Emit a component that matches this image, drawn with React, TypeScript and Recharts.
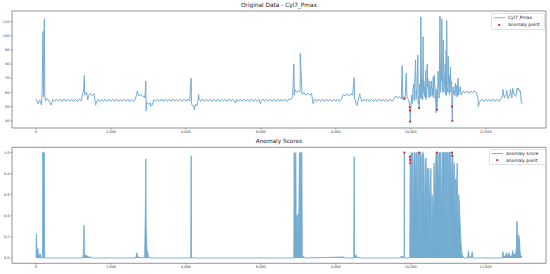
import React from 'react';
import { ComposedChart, Line, Area, Scatter, XAxis, YAxis, ReferenceArea } from 'recharts';

// ---------- data ----------
const xTicks = [0, 2000, 4000, 6000, 8000, 10000, 12000];
const pmaxTicks = [40, 50, 60, 70, 80, 90, 100, 110];
const scoreTicks = [0, 0.2, 0.4, 0.6, 0.8, 1.0];

// Cyl7_Pmax sampled every 50 samples (index 0 .. 12950)
const PMAX_STEP = 50;
const pmaxBase: number[] = [
  55.5, 52, 54.5, 51, 57, 54, 55.5, 53.5, 51, 55, 53.5, 55.2, 53.6, 55.2, 53.6, 55.4, 53.5, 55.2, 53.6, 55.3,
  53.6, 55.2, 53.5, 55.2, 53.8, 59.5, 58, 60, 57.5, 59.5, 57.5, 59, 52, 55, 53.6, 55.2, 53.5, 55.3, 53.6, 55.2,
  53.6, 55.2, 53.5, 55.3, 53.6, 55.2, 53.5, 55.2, 53.6, 55.3, 53.5, 55.2, 53.6, 55.2, 60, 57.5, 58.5, 57, 57.5, 53,
  51.5, 52.5, 51, 55, 53.6, 55.2, 53.5, 55.3, 53.6, 55.2, 53.5, 55.2, 53.6, 55.3, 53.5, 55.2, 53.6, 55.2, 53.5, 55.2,
  53.6, 55.2, 53.8, 52, 50.5, 51.5, 50.5, 55.5, 53.6, 55.3, 53.5, 55.2, 53.6, 55.2, 53.5, 55.3, 53.6, 55.2, 53.5, 55.2,
  53.6, 55.2, 53.5, 55.3, 53.6, 55.2, 53.5, 55.2, 53.6, 55.3, 53.5, 55.2, 53.6, 55.2, 53.5, 55.3, 53.6, 55.2, 53.5, 55.2,
  53.6, 55.2, 53.5, 55.3, 53.6, 55.2, 53.5, 55.2, 53.6, 55.3, 53.5, 55.2, 53.6, 55.2, 53.5, 55.3, 55, 57, 62, 60,
  61, 62, 58.5, 60, 58, 59.5, 58, 59.5, 53, 55.2, 53.5, 55.2, 53.6, 55.3, 53.5, 55.2, 53.6, 55.2, 53.5, 55.3,
  53.6, 55.2, 53.5, 55.2, 58.5, 57.5, 59, 57.5, 59, 58, 56, 51.5, 54.5, 57, 53.5, 55.2, 53.6, 55.3, 53.5, 55.2,
  53.6, 55.2, 53.5, 55.3, 53.6, 55.2, 53.5, 55.2, 53.6, 55.3, 53.5, 55.2, 57.5, 56, 57, 55.5, 57, 55, 57, 54,
  47, 55, 57, 61.5, 52, 60, 55, 62, 56, 64, 58, 63, 57, 64, 48, 62, 66, 60, 68, 58,
  60, 65, 50, 58, 63, 57, 62, 58, 61, 59.5, 61, 59, 61, 59.5, 61, 60, 55, 53.6, 55.2, 53.5,
  55.2, 53.6, 55.2, 53.5, 55.3, 53.6, 55.2, 53.5, 55.2, 57.5, 56, 58.5, 55.5, 59, 56, 59.5, 57, 61.5, 60.5, 52.5,
];

// short excursions of Cyl7_Pmax between the samples above: [index, value]
const pmaxSpikes: [number, number][] = [
  [165, 63], [185, 103], [205, 80], [222, 112], [235, 58],
  [1270, 61], [1290, 72], [1380, 54.5], [1590, 51],
  [2700, 61], [2910, 56], [2930, 68], [2940, 47], [3060, 50.3],
  [4140, 70], [4160, 51], [4230, 47.5], [4340, 58.5],
  [5320, 52.5], [5990, 52],
  [6880, 80], [6895, 58], [7040, 60], [7050, 87.5], [7395, 52],
  [8490, 70.5], [8560, 50.5], [8640, 59],
  [9770, 79], [9790, 55], [9830, 55.5], [9880, 73.5],
  [9975, 49.6], [9980, 47.2], [9985, 39.3],
  [10060, 62], [10130, 83], [10160, 58], [10190, 86.4], [10225, 48.9], [10270, 113.4], [10310, 70],
  [10330, 99.3], [10350, 68], [10400, 75.8], [10420, 60], [10440, 80], [10470, 66], [10520, 62],
  [10560, 68], [10600, 71], [10640, 66], [10680, 45.5], [10700, 47.7], [10730, 75], [10780, 113.9],
  [10810, 80], [10830, 112], [10870, 97], [10900, 72], [10920, 80], [10960, 111], [11000, 85.4],
  [11020, 70], [11060, 78], [11100, 50], [11110, 39.9], [11140, 62], [11190, 66.5], [11220, 65],
  [11260, 70], [11320, 64],
  [10020, 58], [10040, 52], [10080, 66], [10095, 54], [10110, 70], [10145, 55], [10170, 64], [10210, 57],
  [10240, 66], [10260, 56], [10290, 62], [10320, 55], [10340, 60], [10370, 57], [10385, 64], [10410, 55],
  [10430, 58], [10455, 70], [10490, 56], [10510, 68], [10535, 57], [10545, 64], [10575, 58], [10590, 63],
  [10615, 56], [10630, 72], [10660, 58], [10690, 62], [10715, 58], [10745, 66], [10760, 56], [10770, 88],
  [10795, 60], [10820, 68], [10845, 62], [10860, 75], [10885, 60], [10910, 66], [10935, 58], [10945, 90],
  [10975, 64], [10990, 60], [11010, 66], [11035, 58], [11045, 72], [11075, 60], [11090, 68], [11120, 56],
  [11130, 64], [11160, 58], [11175, 62], [11210, 57], [11240, 62], [11280, 58], [11310, 63], [11340, 59],
  [11800, 50],
  [12460, 62], [12560, 61.5], [12660, 62], [12720, 63], [12840, 63], [12880, 63], [12930, 61], [12990, 52.5],
];

// anomaly score: [index, score]
const anomalyScore: [number, number][] = [
  [0, 0], [10, 0.23], [30, 0.01], [50, 0.09], [70, 0.01], [110, 0.04], [130, 0.01], [175, 0],
  [180, 1.0], [190, 0.9], [200, 1.0], [210, 0.95], [220, 1.0], [230, 0],
  [1240, 0], [1260, 0.02], [1280, 0.31], [1290, 0.02], [1320, 0.03], [1400, 0.01], [1450, 0.01], [1500, 0],
  [2660, 0], [2690, 0.05], [2710, 0.01], [2900, 0], [2920, 0.5], [2930, 0.94], [2940, 0.3], [2950, 0.15],
  [2960, 0.08], [2980, 0.05], [3000, 0.01], [3050, 0],
  [4130, 0], [4140, 0.97], [4150, 0], [4200, 0.005], [4260, 0],
  [6880, 0], [6890, 1.0], [6900, 0.5], [6910, 0.98], [6920, 0.99], [6935, 1.0], [6945, 0.02], [6960, 0.4],
  [6970, 0.2], [6990, 0.42], [7005, 0.01], [7030, 1.0], [7045, 0.6], [7060, 1.0], [7080, 0.98], [7095, 1.0],
  [7105, 0.02], [7150, 0.01], [7200, 0],
  [8200, 0.01], [8250, 0], [8480, 0], [8490, 0.96], [8500, 0], [8540, 0.03], [8560, 0], [8600, 0.01], [8650, 0],
  [9700, 0], [9740, 0.01], [9760, 0.02], [9825, 0], [9830, 1.0], [9835, 0],
  [9975, 0], [9985, 0.98], [9995, 0.95], [10005, 0.92], [10015, 1.0], [10030, 0.1], [10045, 1.0], [10060, 0.9],
  [10075, 0.3], [10090, 1.0], [10110, 1.0], [10125, 0.6], [10140, 1.0], [10160, 1.0], [10175, 0.2], [10190, 1.0],
  [10210, 1.0], [10225, 0.05], [10240, 1.0], [10260, 1.0], [10280, 0.95], [10295, 0.1], [10310, 1.0], [10330, 1.0],
  [10350, 0.95], [10370, 0.3], [10390, 0.9], [10410, 0.95], [10430, 0.4], [10450, 0.85], [10465, 0], [10480, 0.85],
  [10500, 0.5], [10520, 0.7], [10540, 0.85], [10555, 0], [10570, 0.6], [10590, 0.5], [10605, 0], [10620, 0.9],
  [10640, 0.5], [10660, 0.8], [10675, 1.0], [10700, 1.0], [10720, 1.0], [10740, 0.6], [10755, 1.0], [10780, 1.0],
  [10800, 1.0], [10820, 0.3], [10840, 1.0], [10870, 1.0], [10900, 1.0], [10912, 0], [10925, 1.0], [10950, 1.0],
  [10980, 1.0], [11000, 0], [11012, 1.0], [11040, 1.0], [11066, 1.0], [11080, 0.5], [11095, 0.85], [11110, 1.0],
  [11125, 0.97], [11140, 0.6], [11160, 0.9], [11180, 0.4], [11200, 0.75], [11220, 0.6], [11240, 0.9], [11260, 0.3],
  [11280, 0.6], [11300, 0.5], [11320, 0.3], [11340, 0.15], [11360, 0.05], [11390, 0.02], [11420, 0],
  [11520, 0], [11540, 0.07], [11560, 0.01], [11620, 0.01], [11640, 0.06], [11660, 0],
  [12440, 0], [12460, 0.06], [12480, 0.01], [12520, 0.02], [12560, 0.05], [12580, 0.01], [12620, 0.05],
  [12640, 0.02], [12700, 0.02], [12720, 0.07], [12740, 0.03], [12800, 0.04], [12820, 0.1], [12835, 0.35],
  [12850, 0.2], [12860, 0.15], [12880, 0.22], [12900, 0.18], [12920, 0.05], [12940, 0.02], [12970, 0.01],
];

// detected anomaly points
const anomalyIndex = [9830, 9975, 9980, 9985, 10225, 10700, 11100, 11110];
const anomalyPmax = [55.5, 49.6, 47.2, 39.3, 48.9, 47.7, 50.0, 39.9];
const anomalyPointScore = [1.0, 0.96, 0.93, 0.9, 1.0, 1.0, 1.0, 0.97];

// ---------- chart ----------
const X_DOMAIN: [number, number] = [-641, 13610];
const PMAX_DOMAIN: [number, number] = [34.8, 117.5];
const SCORE_DOMAIN: [number, number] = [-0.05, 1.05];

const FONT = 'DejaVu Sans, sans-serif';
const BLUE = '#74abd1';
const RED = '#d62728';
const FRAME = '#666';

const pmaxData = (() => {
  const pts = pmaxBase.map((v, i) => ({ x: i * PMAX_STEP, y: v }));
  pmaxSpikes.forEach(([x, y]) => pts.push({ x, y }));
  pts.sort((a, b) => a.x - b.x);
  return pts;
})();
const scoreData = anomalyScore.map(([x, y]) => ({ x, y }));
const anomTop = anomalyIndex.map((x, i) => ({ x, y: anomalyPmax[i] }));
const anomBottom = anomalyIndex.map((x, i) => ({ x, y: anomalyPointScore[i] }));

const tickStyle = { fontSize: 3.4, fill: '#333', fontFamily: FONT };
const tickLine = { stroke: '#444', strokeWidth: 0.5 };
const fmt = (v: number) => v.toLocaleString('en-US');
const fmtScore = (v: number) => v.toFixed(1);

const Dot = (props: any) => <circle cx={props.cx} cy={props.cy} r={1.1} fill={RED} />;

function LegendBox({ left, top, width, height, label }: { left: number; top: number; width: number; height: number; label: string }) {
  return (
    <svg style={{ position: 'absolute', left, top, overflow: 'visible' }} width={width} height={height}>
      <rect x={0.5} y={0.5} width={width - 1} height={height - 1} rx={1.2} fill="#fff" fillOpacity={0.85} stroke="#ccc" strokeWidth={0.6} />
      <line x1={2.5} x2={14} y1={height * 0.28} y2={height * 0.28} stroke={BLUE} strokeWidth={0.9} />
      <text x={17} y={height * 0.28} dominantBaseline="central" fontSize={4.4} fontFamily={FONT} fill="#222">{label}</text>
      <circle cx={8.2} cy={height * 0.7} r={1.1} fill={RED} />
      <text x={17} y={height * 0.7} dominantBaseline="central" fontSize={4.4} fontFamily={FONT} fill="#222">anomaly point</text>
    </svg>
  );
}

export default function App() {
  return (
    <div style={{ position: 'absolute', left: 0, top: 0, width: 550, height: 274, background: '#fff', fontFamily: FONT }}>
      <div style={{ position: 'absolute', left: 12, width: 534, top: 1, textAlign: 'center', fontSize: 5.8, lineHeight: '8px', color: '#222' }}>
        Original Data - Cyl7_Pmax
      </div>
      <div style={{ position: 'absolute', left: 0, top: 0 }}>
        <ComposedChart width={550} height={140} margin={{ top: 11, right: 4, bottom: 0, left: 0 }}>
          <XAxis dataKey="x" type="number" domain={X_DOMAIN} ticks={xTicks} interval={0} allowDataOverflow
            tickFormatter={fmt} height={12} tickSize={1.5} tickMargin={1.2} axisLine={false} tickLine={tickLine} tick={tickStyle} />
          <YAxis type="number" domain={PMAX_DOMAIN} ticks={pmaxTicks} interval={0} allowDataOverflow
            width={12} tickSize={1.5} tickMargin={1.2} axisLine={false} tickLine={tickLine} tick={tickStyle} />
          <ReferenceArea x1={X_DOMAIN[0]} x2={X_DOMAIN[1]} y1={PMAX_DOMAIN[0]} y2={PMAX_DOMAIN[1]} fill="none" stroke={FRAME} strokeWidth={0.7} ifOverflow="visible" />
          <Line data={pmaxData} dataKey="y" type="linear" stroke={BLUE} strokeWidth={1.0} dot={false} activeDot={false} isAnimationActive={false} />
          <Scatter data={anomTop} dataKey="y" fill={RED} shape={Dot} isAnimationActive={false} />
        </ComposedChart>
      </div>
      <LegendBox left={491} top={12.5} width={54} height={17} label="Cyl7_Pmax" />

      <div style={{ position: 'absolute', left: 12, width: 534, top: 137, textAlign: 'center', fontSize: 5.8, lineHeight: '8px', color: '#222' }}>
        Anomaly Scores
      </div>
      <div style={{ position: 'absolute', left: 0, top: 137 }}>
        <ComposedChart width={550} height={137} margin={{ top: 10.3, right: 4, bottom: 0, left: 0 }}>
          <XAxis dataKey="x" type="number" domain={X_DOMAIN} ticks={xTicks} interval={0} allowDataOverflow
            tickFormatter={fmt} height={10.7} tickSize={1.5} tickMargin={1.2} axisLine={false} tickLine={tickLine} tick={tickStyle} />
          <YAxis type="number" domain={SCORE_DOMAIN} ticks={scoreTicks} interval={0} allowDataOverflow tickFormatter={fmtScore}
            width={12} tickSize={1.5} tickMargin={1.2} axisLine={false} tickLine={tickLine} tick={tickStyle} />
          <ReferenceArea x1={X_DOMAIN[0]} x2={X_DOMAIN[1]} y1={SCORE_DOMAIN[0]} y2={SCORE_DOMAIN[1]} fill="none" stroke={FRAME} strokeWidth={0.7} ifOverflow="visible" />
          <Area data={scoreData} dataKey="y" type="linear" baseValue={0} stroke={BLUE} strokeWidth={0.9} fill={BLUE} fillOpacity={1} dot={false} activeDot={false} isAnimationActive={false} />
          <Scatter data={anomBottom} dataKey="y" fill={RED} shape={Dot} isAnimationActive={false} />
        </ComposedChart>
      </div>
      <LegendBox left={488.5} top={149} width={57} height={16} label="anomaly score" />
    </div>
  );
}
